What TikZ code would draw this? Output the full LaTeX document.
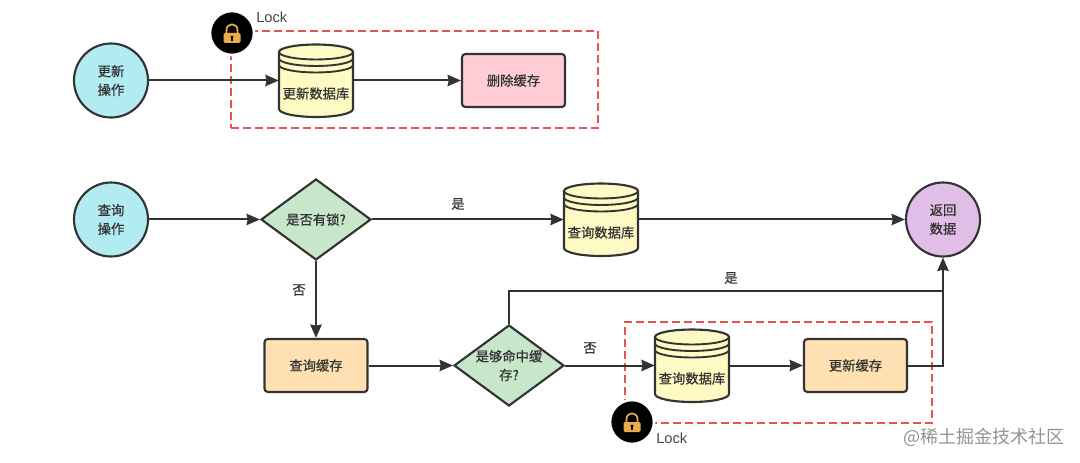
\documentclass[tikz,border=0pt]{standalone}
\usepackage{fontspec}
\usetikzlibrary{arrows.meta,shapes.geometric}
\newfontfamily\cjk[FakeBold=0.7]{Noto Sans CJK SC}
\newfontfamily\cjkplain[FakeBold=0.3]{Noto Sans CJK SC}
\newfontfamily\cjkmark{Noto Sans CJK SC}
\setmainfont{Liberation Sans}
\definecolor{ink}{HTML}{333333}
\definecolor{cyanfill}{HTML}{B2EBF2}
\definecolor{yellowfill}{HTML}{FFF9C4}
\definecolor{pinkfill}{HTML}{FFCDD6}
\definecolor{greenfill}{HTML}{C8E6C9}
\definecolor{orangefill}{HTML}{FFE0B2}
\definecolor{purplefill}{HTML}{E1BEE7}
\definecolor{redline}{HTML}{E8524F}
\definecolor{gold}{HTML}{E8AC48}
\tikzset{
  base/.style={draw=ink,line width=1.6pt,text=ink,font=\cjk\fontsize{10}{14}\selectfont,align=center,inner sep=0pt},
  roundnode/.style={base,circle,minimum size=55.5pt},
  boxnode/.style={base,rectangle,rounded corners=2.5pt,minimum width=77.25pt,minimum height=39.75pt},
  decision/.style={base,diamond,aspect=1.36,fill=greenfill,minimum width=82.5pt,minimum height=60.75pt},
  dbframe/.style={inner sep=0pt,minimum width=55.5pt,minimum height=54.75pt},
  dblabel/.style={text=ink,font=\cjk\fontsize{10}{14}\selectfont,inner sep=0pt},
  conn/.style={draw=ink,line width=1.5pt},
  flow/.style={conn,-{Stealth[length=10pt,width=8.5pt,inset=0.8pt]}},
  lockzone/.style={draw=redline,line width=2pt,dash pattern=on 6pt off 3pt},
  edgelabel/.style={text=ink,font=\cjkplain\fontsize{10}{12}\selectfont,inner sep=0pt},
  locktext/.style={text=ink!90,font=\fontsize{11}{13}\selectfont,inner sep=0pt},
  lockdisc/.style={circle,fill=black,draw=white,line width=2pt,minimum size=33pt,inner sep=0pt}
}
\newcommand{\dbnode}[4]{%
  \node[dbframe] (#1) at (#2,#3) {};
  \draw[draw=ink,line width=1.6pt,fill=yellowfill]
    ({#2-37},{#3-28.5}) arc[start angle=180,end angle=0,x radius=27.75pt,y radius=5.6pt]
    -- ({#2+37},{#3+28.5}) arc[start angle=0,end angle=-180,x radius=27.75pt,y radius=6pt] -- cycle;
  \draw[draw=ink,line width=1.4pt] ({#2-37},{#3-28.5}) arc[start angle=180,end angle=360,x radius=27.75pt,y radius=5.6pt];
  \draw[draw=ink,line width=1.4pt] ({#2-37},{#3-22}) arc[start angle=180,end angle=360,x radius=27.75pt,y radius=5.6pt];
  \draw[draw=ink,line width=1.4pt] ({#2-37},{#3-15.5}) arc[start angle=180,end angle=360,x radius=27.75pt,y radius=5.6pt];
  \node[dblabel] (#1t) at (#2,{#3+13}) {#4};
}
\newcommand{\locknode}[3]{%
  \node[lockdisc] (#1) at (#2,#3) {};
  \draw[draw=gold,line width=1.3pt] ({#2-5.5},{#3+1}) -- ({#2-5.5},{#3-3})
     .. controls ({#2-5.5},{#3-10.5}) and ({#2+5.5},{#3-10.5}) .. ({#2+5.5},{#3-3}) -- ({#2+5.5},{#3+1});
  \fill[gold,rounded corners=1pt] ({#2-8.5},{#3}) rectangle ({#2+8.5},{#3+10});
  \fill[black] (#2,{#3+4}) circle[radius=1.3pt];
  \fill[black] ({#2-0.8},{#3+4}) rectangle ({#2+0.8},{#3+8});
}
\begin{document}
\begin{tikzpicture}[x=0.75pt,y=-0.75pt]
\useasboundingbox (0,0) rectangle (1080,463);
\fill[white] (0,0) rectangle (1080,463);

% dashed lock zones
\node[lockzone,rectangle,minimum width=275.25pt,minimum height=72.75pt,inner sep=0pt] (zone1) at (414.5,79.5) {};
\node[lockzone,rectangle,minimum width=230.25pt,minimum height=75.75pt,inner sep=0pt] (zone2) at (778.5,372.5) {};

% nodes
\node[roundnode,fill=cyanfill] (update) at (111,80.5) {更新\\操作};
\node[boxnode,fill=pinkfill] (del) at (513.5,80.5) {删除缓存};
\node[roundnode,fill=cyanfill] (query) at (111,219.5) {查询\\操作};
\node[decision] (haslock) at (316,219.5) {是否有锁?};
\node[roundnode,fill=purplefill] (ret) at (943,219.5) {返回\\数据};
\node[boxnode,fill=orangefill] (qcache) at (316,365.5) {查询缓存};
\node[decision] (hit) at (509,365.5) {是够命中缓\\存?};
\node[boxnode,fill=orangefill] (upcache) at (855.5,365.5) {更新缓存};
\coordinate (join) at (943,291);

% connectors
\draw[flow] (query.east) -- (haslock.west);
\draw[flow] (haslock.south) -- (qcache.north);
\draw[flow] (qcache.east) -- (hit.west);
\draw[conn] (hit.north) |- (join);
\draw[flow] (upcache.east) -| (ret.south);

\dbnode{db1}{316}{80.5}{更新数据库}
\dbnode{db2}{601}{219.5}{查询数据库}
\dbnode{db3}{692}{365.5}{查询数据库}

\draw[flow] (update.east) -- (db1.west);
\draw[flow] (db1.east) -- (del.west);
\draw[flow] (haslock.east) -- (db2.west);
\draw[flow] (db2.east) -- (ret.west);
\draw[flow] (hit.east) -- (db3.west);
\draw[flow] (db3.east) -- (upcache.west);

% labels
\node[edgelabel] (l1) at (458,204) {是};
\node[edgelabel] (l2) at (299,290) {否};
\node[edgelabel] (l3) at (731,278) {是};
\node[edgelabel] (l4) at (590,348) {否};

% locks
\locknode{lock1}{232}{33}
\locknode{lock2}{632}{422}
\node[locktext,anchor=west] (lt1) at (256,17.5) {Lock};
\node[locktext,anchor=west] (lt2) at (656,438) {Lock};

% watermark
\node[anchor=east,text=black!42,font=\cjkmark\fontsize{13.5}{16}\selectfont,inner sep=0pt] (mark) at (1065,437) {@稀土掘金技术社区};
\end{tikzpicture}
\end{document}
